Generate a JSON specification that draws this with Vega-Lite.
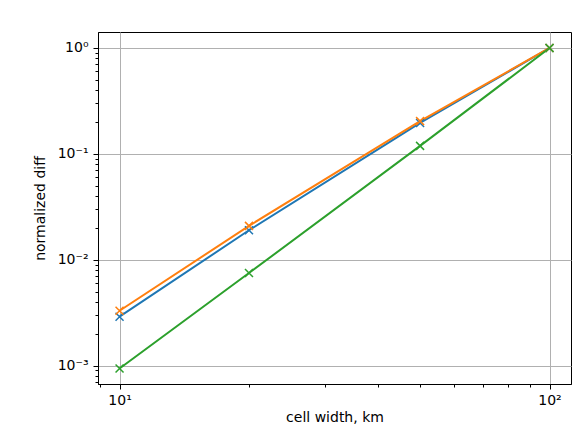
{
  "$schema": "https://vega.github.io/schema/vega-lite/v6.json",
  "width": 473,
  "height": 352,
  "autosize": {"type": "none"},
  "padding": {"left": 98, "top": 32, "right": 10, "bottom": 49},
  "background": "white",
  "config": {
    "view": {"stroke": "black", "strokeWidth": 1},
    "font": "DejaVu Sans"
  },
  "data": {
    "values": [
      {"series": "s1", "width_km": 10, "diff": 0.0029},
      {"series": "s1", "width_km": 20, "diff": 0.0190},
      {"series": "s1", "width_km": 50, "diff": 0.196},
      {"series": "s1", "width_km": 100, "diff": 1.0},
      {"series": "s2", "width_km": 10, "diff": 0.0033},
      {"series": "s2", "width_km": 20, "diff": 0.0209},
      {"series": "s2", "width_km": 50, "diff": 0.204},
      {"series": "s2", "width_km": 100, "diff": 1.0},
      {"series": "s3", "width_km": 10, "diff": 0.00094},
      {"series": "s3", "width_km": 20, "diff": 0.00749},
      {"series": "s3", "width_km": 50, "diff": 0.119},
      {"series": "s3", "width_km": 100, "diff": 1.0}
    ]
  },
  "encoding": {
    "x": {
      "field": "width_km",
      "type": "quantitative",
      "scale": {"type": "log", "domain": [8.91, 112.2], "nice": false},
      "axis": {
        "title": "cell width, km",
        "titleFont": "DejaVu Sans",
        "titleFontSize": 14,
        "titleFontWeight": "normal",
        "titleColor": "black",
        "titlePadding": 3,
        "values": [9, 10, 20, 30, 40, 50, 60, 70, 80, 90, 100],
        "labelExpr": "datum.value == 10 ? '10¹' : datum.value == 100 ? '10²' : ''",
        "labelFont": "DejaVu Sans",
        "labelFontSize": 14,
        "labelColor": "black",
        "labelOverlap": false,
        "labelFlush": false,
        "labelPadding": 4,
        "domainColor": "black",
        "domainWidth": 1,
        "tickColor": "black",
        "tickWidth": 1,
        "tickSize": {"condition": {"test": "datum.value == 10 || datum.value == 100", "value": 5}, "value": 3},
        "grid": true,
        "gridColor": "#b0b0b0",
        "gridWidth": 1,
        "gridOpacity": {"condition": {"test": "datum.value == 10 || datum.value == 100", "value": 1}, "value": 0}
      }
    },
    "y": {
      "field": "diff",
      "type": "quantitative",
      "scale": {"type": "log", "domain": [0.000671, 1.416], "nice": false},
      "axis": {
        "title": "normalized diff",
        "titleFont": "DejaVu Sans",
        "titleFontSize": 14,
        "titleFontWeight": "normal",
        "titleColor": "black",
        "titlePadding": 10,
        "values": [0.0007, 0.0008, 0.0009, 0.001, 0.002, 0.003, 0.004, 0.005, 0.006, 0.007, 0.008, 0.009, 0.01, 0.02, 0.03, 0.04, 0.05, 0.06, 0.07, 0.08, 0.09, 0.1, 0.2, 0.3, 0.4, 0.5, 0.6, 0.7, 0.8, 0.9, 1],
        "labelExpr": "datum.value == 1 ? '10⁰' : datum.value == 0.1 ? '10⁻¹' : datum.value == 0.01 ? '10⁻²' : datum.value == 0.001 ? '10⁻³' : ''",
        "labelFont": "DejaVu Sans",
        "labelFontSize": 14,
        "labelColor": "black",
        "labelOverlap": false,
        "labelFlush": false,
        "labelPadding": 5,
        "domainColor": "black",
        "domainWidth": 1,
        "tickColor": "black",
        "tickWidth": 1,
        "tickSize": {"condition": {"test": "datum.value == 1 || datum.value == 0.1 || datum.value == 0.01 || datum.value == 0.001", "value": 5}, "value": 3},
        "grid": true,
        "gridColor": "#b0b0b0",
        "gridWidth": 1,
        "gridOpacity": {"condition": {"test": "datum.value == 1 || datum.value == 0.1 || datum.value == 0.01 || datum.value == 0.001", "value": 1}, "value": 0}
      }
    },
    "color": {
      "field": "series",
      "type": "nominal",
      "scale": {"domain": ["s1", "s2", "s3"], "range": ["#1f77b4", "#ff7f0e", "#2ca02c"]},
      "legend": null
    }
  },
  "layer": [
    {"mark": {"type": "line", "strokeWidth": 2, "clip": true}},
    {
      "mark": {
        "type": "point",
        "shape": "M-1,-1L1,1M-1,1L1,-1",
        "filled": false,
        "size": 64,
        "strokeWidth": 1.5,
        "opacity": 1,
        "clip": true
      }
    }
  ]
}
